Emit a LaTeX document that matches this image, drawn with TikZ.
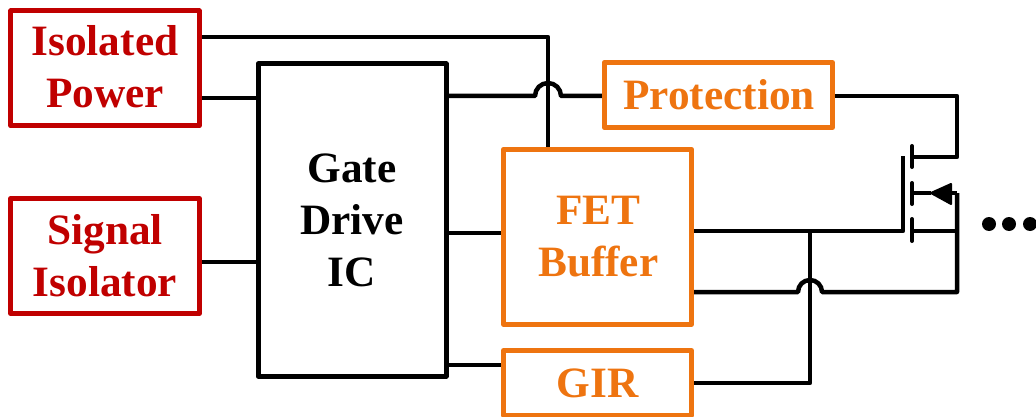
\documentclass[tikz,border=0pt]{standalone}
\usepackage{fontspec}
\usetikzlibrary{backgrounds}
\setmainfont{Liberation Serif}
\definecolor{boxred}{HTML}{C00000}
\definecolor{boxorange}{HTML}{EE7410}
\tikzset{
  block/.style={draw,line width=5pt,rectangle,align=center,inner sep=0pt,outer sep=0pt,
    font=\fontsize{43.3}{52}\selectfont\bfseries,line join=round},
  redblock/.style={block,draw=boxred,text=boxred},
  orangeblock/.style={block,draw=boxorange,text=boxorange},
  blackblock/.style={block,draw=black,text=black},
  wire/.style={line width=4.5pt,line join=round,line cap=butt,black},
  fetbar/.style={line width=4pt,line cap=round,black},
  dotmark/.style={circle,fill=black,inner sep=0pt,minimum size=14pt},
}
\begin{document}
\begin{tikzpicture}[x=1pt,y=-1pt]
\useasboundingbox (0,0) rectangle (1036,417);
\node[redblock,minimum width=188.4pt,minimum height=115pt] (power) at (105,68.3) {\raisebox{3pt}{Isolated}\\\raisebox{3pt}{Power}};
\node[redblock,minimum width=188.4pt,minimum height=115pt] (signal) at (105,256) {Signal\\Isolator};
\node[blackblock,minimum width=188pt,minimum height=312pt] (ic) at (352,220) {Gate\\Drive\\IC};
\node[orangeblock,minimum width=228.3pt,minimum height=65pt] (prot) at (718.3,95) {\hspace{1.5pt}Protection};
\node[orangeblock,minimum width=188pt,minimum height=175pt] (fet) at (597.5,236.7) {\hspace{1.5pt}\raisebox{-3pt}{FET}\\\hspace{1.5pt}\raisebox{-3pt}{Buffer}};
\node[orangeblock,minimum width=188pt,minimum height=65pt] (gir) at (597.5,383) {\raisebox{-2pt}{GIR}};
% reference coordinates
\coordinate (top) at (548,37);
\coordinate (vcc) at (0,98);
\coordinate (sig) at (0,262);
\coordinate (out) at (0,233);
\coordinate (low) at (0,365);
\coordinate (bumpa) at (535,96);
\coordinate (bumpb) at (561,96);
\coordinate (rail) at (957,96);
\coordinate (drain) at (957,157);
\coordinate (drainbar) at (912,157);
\coordinate (da) at (912,146);
\coordinate (db) at (912,167);
\coordinate (ba) at (912,183);
\coordinate (bb) at (912,204);
\coordinate (sa) at (912,219);
\coordinate (sb) at (912,241);
\coordinate (bodyin) at (912,193);
\coordinate (tip) at (931,193);
\coordinate (btop) at (951,184);
\coordinate (bbot) at (951,204);
\coordinate (bend) at (957,193);
\coordinate (gatetop) at (903,156);
\coordinate (gatefoot) at (903,231);
\coordinate (source) at (957,231);
\coordinate (sourcebar) at (912,231);
\coordinate (ret) at (957,292);
\coordinate (bumpc) at (822,292);
\coordinate (bumpd) at (798,292);
\coordinate (tee) at (810,231);
\coordinate (girin) at (810,383);
% connectors
\begin{scope}[on background layer]
\draw[wire] (power.east |- top) -- (top) -- (top |- fet.north);
\draw[wire] (power.east |- vcc) -- (ic.west |- vcc);
\draw[wire] (signal.east |- sig) -- (ic.west |- sig);
\draw[wire] (ic.east |- bumpa) -- (bumpa) arc[start angle=180,end angle=0,radius=13pt] -- (prot.west |- bumpb);
\draw[wire] (ic.east |- out) -- (fet.west |- out);
\draw[wire] (ic.east |- low) -- (gir.west |- low);
\draw[wire] (prot.east |- rail) -- (rail) -- (drain) -- (drainbar);
\draw[wire] (fet.east |- gatefoot) -- (gatefoot) -- (gatetop);
\draw[wire] (sourcebar) -- (source);
\draw[wire] (bend) -- (ret) -- (bumpc) arc[start angle=0,end angle=180,radius=12pt] -- (fet.east |- ret);
\draw[wire] (tee) -- (girin) -- (gir.east |- girin);
\draw[wire] (bodyin) -- (tip);
\draw[wire] (btop |- bend) -- (bend);
\end{scope}
\filldraw[black,line width=2pt,line join=round] (tip) -- (btop) -- (bbot) -- cycle;
\draw[fetbar] (da) -- (db);
\draw[fetbar] (ba) -- (bb);
\draw[fetbar] (sa) -- (sb);
\node[dotmark] (d1) at (989,224) {};
\node[dotmark] (d2) at (1009,224) {};
\node[dotmark] (d3) at (1030,224) {};
\end{tikzpicture}
\end{document}
